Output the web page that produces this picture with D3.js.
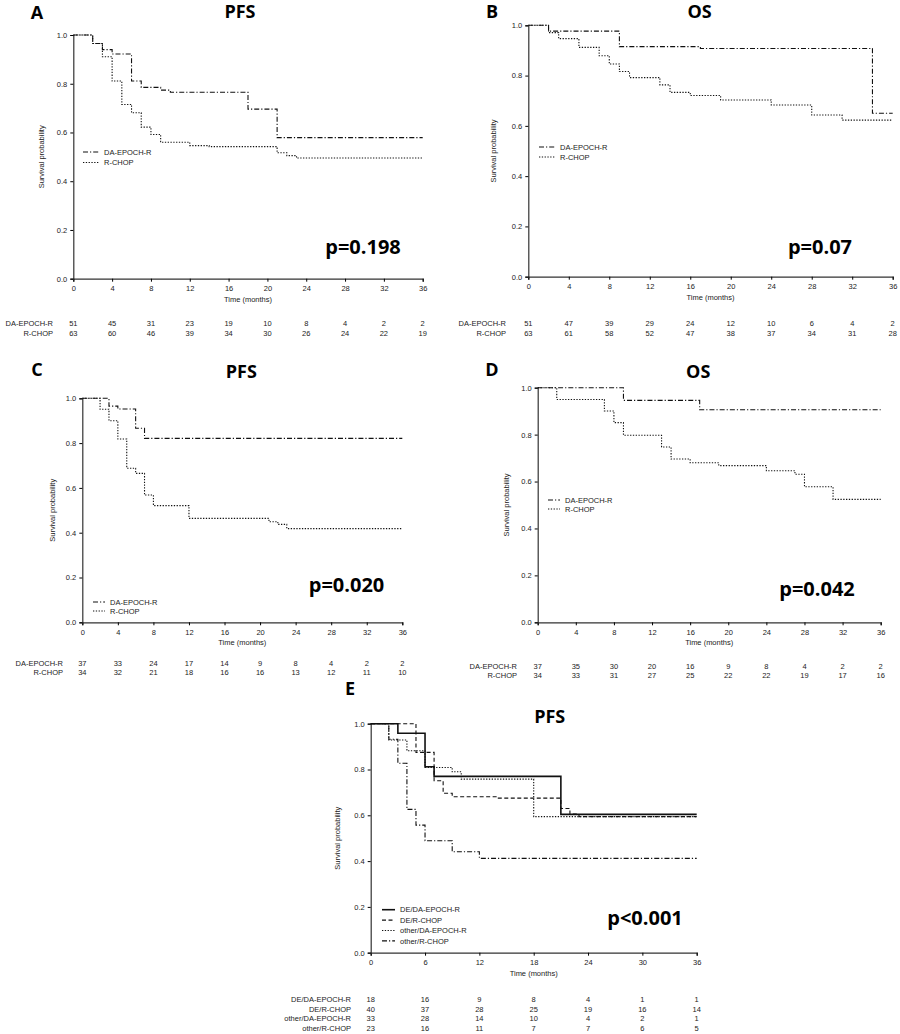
<!DOCTYPE html>
<html>
<head>
<meta charset="utf-8">
<script src="https://cdn.jsdelivr.net/npm/d3@7"></script>
<style>
  body { margin:0; background:#fff; }
  svg text { font-family: "Liberation Sans", Arial, sans-serif; }
  svg text.big { font-family: "Open Sans", "Noto Sans", sans-serif; font-weight:700; }
</style>
</head>
<body>
<script>
// time ticks
var monthsAD = [0,4,8,12,16,20,24,28,32,36];
var monthsE = [0,6,12,18,24,30,36];
var probTicks = [0,0.2,0.4,0.6,0.8,1.0];

// Kaplan-Meier steps [month, survival]
var pfsA_epoch = [[0,1],[2,0.965],[3,0.94],[4,0.922],[6,0.811],[7,0.785],[9,0.774],[10,0.765],[18,0.696],[21,0.579]];
var pfsA_rchop = [[0,1],[2,0.965],[3,0.911],[4,0.811],[5,0.715],[6,0.681],[7,0.622],[8,0.592],[9,0.56],[12,0.546],[14,0.542],[21,0.517],[22,0.505],[23,0.495]];
var osB_epoch = [[0,1],[2,0.977],[9,0.915],[17,0.908],[34,0.65]];
var osB_rchop = [[0,1],[2,0.971],[3,0.947],[5,0.912],[7,0.879],[8,0.846],[9,0.816],[10,0.792],[13,0.763],[14,0.733],[16,0.721],[19,0.703],[24,0.683],[28,0.643],[31,0.623]];
var pfsC_epoch = [[0,1],[3,0.965],[4,0.952],[6,0.866],[7,0.821]];
var pfsC_rchop = [[0,1],[2,0.951],[3,0.9],[4,0.818],[5,0.688],[6,0.665],[7,0.568],[8,0.521],[12,0.464],[21,0.449],[22,0.437],[23,0.418]];
var osD_epoch = [[0,1],[9,0.946],[17,0.906]];
var osD_rchop = [[0,1],[2,0.95],[7,0.901],[8,0.851],[9,0.797],[13,0.747],[14,0.696],[16,0.68],[19,0.668],[24,0.646],[27,0.631],[28,0.578],[31,0.524]];
var pfsE_deEpoch = [[0,1],[3,0.958],[6,0.812],[7,0.77],[21,0.604]];
var pfsE_deRchop = [[0,1],[5,0.875],[7,0.751],[8,0.696],[9,0.681],[14,0.675],[21,0.63],[22,0.605],[23,0.594]];
var pfsE_otherEpoch = [[0,1],[2,0.929],[4,0.882],[6,0.809],[9,0.79],[10,0.758],[18,0.594]];
var pfsE_otherRchop = [[0,1],[2,0.932],[3,0.827],[4,0.626],[5,0.557],[6,0.489],[9,0.441],[12,0.412]];

// numbers at risk
var riskA_epoch = [51,45,31,23,19,10,8,4,2,2];
var riskA_rchop = [63,60,46,39,34,30,26,24,22,19];
var riskB_epoch = [51,47,39,29,24,12,10,6,4,2];
var riskB_rchop = [63,61,58,52,47,38,37,34,31,28];
var riskC_epoch = [37,33,24,17,14,9,8,4,2,2];
var riskC_rchop = [34,32,21,18,16,16,13,12,11,10];
var riskD_epoch = [37,35,30,20,16,9,8,4,2,2];
var riskD_rchop = [34,33,31,27,25,22,22,19,17,16];
var riskE_deEpoch = [18,16,9,8,4,1,1];
var riskE_deRchop = [40,37,28,25,19,16,14];
var riskE_otherEpoch = [33,28,14,10,4,2,1];
var riskE_otherRchop = [23,16,11,7,7,6,5];

var twoGroups = ["DA-EPOCH-R","R-CHOP"];
var fourGroups = ["DE/DA-EPOCH-R","DE/R-CHOP","other/DA-EPOCH-R","other/R-CHOP"];

var styles = {
  dashdot: {dash:"5,2,1.2,2", width:1.1},
  dotted: {dash:"1.3,1.5", width:1.1},
  dashed: {dash:"4,2.5", width:1.1},
  solid: {dash:null, width:1.6}
};

var svg = d3.select("body").append("svg")
  .attr("width",900).attr("height",1034);

var drawPanel = function(p)
{
  var g = svg.append("g");
  var xScale = d3.scaleLinear().domain([0,36]).range([p.x0,p.x1]);
  var yScale = d3.scaleLinear().domain([0,1]).range([p.yBot,p.yTop]);

  // axes
  g.append("g").attr("transform","translate(0,"+p.yBot+")")
    .call(d3.axisBottom(xScale).tickValues(p.months).tickSize(3).tickFormat(d3.format("d")))
    .call(function(a){ a.select(".domain").attr("stroke","#333").attr("stroke-width",1.2);
      a.selectAll("text").attr("font-size",7.5).attr("dy","0.9em").attr("fill","#222"); });
  g.append("g").attr("transform","translate("+p.x0+",0)")
    .call(d3.axisLeft(yScale).tickValues(probTicks).tickSize(3).tickFormat(d3.format(".1f")))
    .call(function(a){ a.select(".domain").attr("stroke","#333").attr("stroke-width",1.2);
      a.selectAll("text").attr("font-size",7.5).attr("fill","#222"); });

  g.append("text").attr("x",(p.x0+p.x1)/2).attr("y",p.yBot+23)
    .attr("text-anchor","middle").attr("font-size",7.5).attr("fill","#222").text("Time (months)");
  g.append("text").attr("transform","translate("+p.ylabX+","+((p.yTop+p.yBot)/2)+") rotate(-90)")
    .attr("text-anchor","middle").attr("dy","0.35em").attr("font-size",7.5).attr("fill","#222").text("Survival probability");

  // curves
  var line = d3.line().curve(d3.curveStepAfter)
    .x(function(d){return xScale(d[0])})
    .y(function(d){return yScale(d[1])});
  p.series.forEach(function(s){
    var pts = s.data.concat([[36, s.data[s.data.length-1][1]]]);
    var st = styles[s.style];
    g.append("path").datum(pts).attr("d",line)
      .attr("fill","none").attr("stroke","#111").attr("stroke-width",st.width)
      .attr("stroke-dasharray",st.dash);
  });

  // legend
  p.series.forEach(function(s,i){
    var st = styles[s.style];
    var ly = p.legY + i*p.legStep;
    g.append("line").attr("x1",p.legX).attr("x2",p.legX+p.legLen).attr("y1",ly).attr("y2",ly)
      .attr("stroke","#111").attr("stroke-width",st.width).attr("stroke-dasharray",st.dash);
    g.append("text").attr("x",p.legX+p.legLen+5).attr("y",ly).attr("dy","0.35em")
      .attr("font-size",7.5).attr("fill","#222").text(s.name);
  });

  // titles
  g.append("text").attr("class","big").attr("x",(p.x0+p.x1)/2+p.titleDx).attr("y",p.titleY)
    .attr("text-anchor","middle").attr("dy","0.35em").attr("font-size",18).text(p.title);
  g.append("text").attr("class","big").attr("x",p.letterX).attr("y",p.letterY)
    .attr("text-anchor","middle").attr("dy","0.35em").attr("font-size",18).text(p.letter);
  g.append("text").attr("class","big").attr("x",p.pX).attr("y",p.pY)
    .attr("text-anchor","middle").attr("dy","0.35em").attr("font-size",20).text(p.pText);

  // numbers at risk
  p.series.forEach(function(s,i){
    var ry = p.riskY + i*p.riskStep;
    g.append("text").attr("x",p.riskLabX).attr("y",ry).attr("dy","0.35em")
      .attr("text-anchor","end").attr("font-size",7.5).attr("fill","#222").text(s.name);
    g.selectAll(null).data(s.risk).enter().append("text")
      .attr("x",function(d,j){return xScale(p.months[j])})
      .attr("y",ry).attr("dy","0.35em")
      .attr("text-anchor","middle").attr("font-size",7.5).attr("fill","#222")
      .text(function(d){return d});
  });
}

drawPanel({letter:"A", title:"PFS", pText:"p=0.198", months:monthsAD,
  x0:73.3, x1:422.7, yTop:35, yBot:278.7, ylabX:41, titleDx:-8, titleY:12, letterX:37, letterY:12.5,
  pX:363, pY:247, legX:83, legLen:16, legY:152, legStep:10.5, riskY:323.5, riskStep:10, riskLabX:53,
  series:[{name:twoGroups[0], style:"dashdot", data:pfsA_epoch, risk:riskA_epoch},
          {name:twoGroups[1], style:"dotted", data:pfsA_rchop, risk:riskA_rchop}]});

drawPanel({letter:"B", title:"OS", pText:"p=0.07", months:monthsAD,
  x0:528.3, x1:892.7, yTop:25.3, yBot:276.7, ylabX:493, titleDx:-11, titleY:12, letterX:492, letterY:12,
  pX:820, pY:247, legX:539, legLen:16, legY:147, legStep:10, riskY:323.5, riskStep:10, riskLabX:506,
  series:[{name:twoGroups[0], style:"dashdot", data:osB_epoch, risk:riskB_epoch},
          {name:twoGroups[1], style:"dotted", data:osB_rchop, risk:riskB_rchop}]});

drawPanel({letter:"C", title:"PFS", pText:"p=0.020", months:monthsAD,
  x0:82.3, x1:402.3, yTop:398.3, yBot:622.3, ylabX:52, titleDx:-1, titleY:371.7, letterX:37, letterY:370,
  pX:346.5, pY:585, legX:93, legLen:12, legY:602, legStep:9, riskY:663.5, riskStep:9, riskLabX:63,
  series:[{name:twoGroups[0], style:"dashdot", data:pfsC_epoch, risk:riskC_epoch},
          {name:twoGroups[1], style:"dotted", data:pfsC_rchop, risk:riskC_rchop}]});

drawPanel({letter:"D", title:"OS", pText:"p=0.042", months:monthsAD,
  x0:537.7, x1:880.7, yTop:387.7, yBot:622.3, ylabX:506, titleDx:-11, titleY:371.7, letterX:492, letterY:370,
  pX:817, pY:589, legX:548, legLen:12, legY:500, legStep:9, riskY:666, riskStep:9.5, riskLabX:517,
  series:[{name:twoGroups[0], style:"dashdot", data:osD_epoch, risk:riskD_epoch},
          {name:twoGroups[1], style:"dotted", data:osD_rchop, risk:riskD_rchop}]});

drawPanel({letter:"E", title:"PFS", pText:"p<0.001", months:monthsE,
  x0:370.7, x1:696.7, yTop:723.7, yBot:952.7, ylabX:337, titleDx:16, titleY:716.7, letterX:350, letterY:689,
  pX:645, pY:918, legX:382, legLen:13, legY:909.7, legStep:10.4, riskY:999.5, riskStep:9.6, riskLabX:351,
  series:[{name:fourGroups[0], style:"solid", data:pfsE_deEpoch, risk:riskE_deEpoch},
          {name:fourGroups[1], style:"dashed", data:pfsE_deRchop, risk:riskE_deRchop},
          {name:fourGroups[2], style:"dotted", data:pfsE_otherEpoch, risk:riskE_otherEpoch},
          {name:fourGroups[3], style:"dashdot", data:pfsE_otherRchop, risk:riskE_otherRchop}]});
</script>
</body>
</html>
